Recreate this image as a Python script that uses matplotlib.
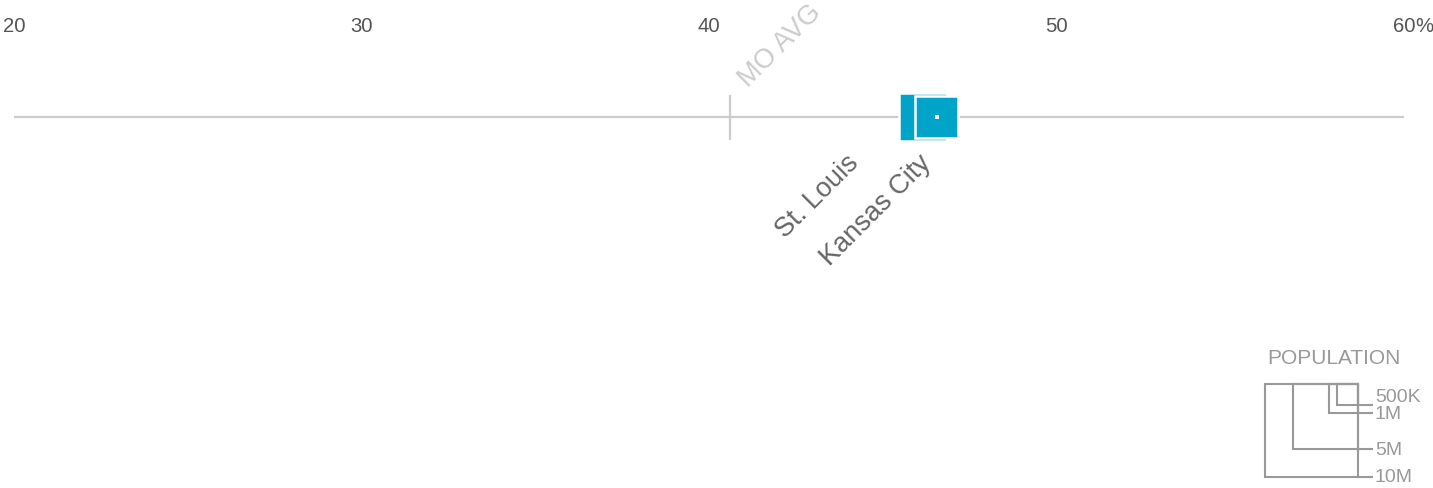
import numpy as np
import matplotlib.pyplot as plt
from matplotlib.patches import Rectangle

plt.rcParams['font.family'] = ['Liberation Sans', 'DejaVu Sans']

# metro share (%) and metro population
cities = ['St. Louis', 'Kansas City']
share = [46.15, 46.55]
population = [2650000, 2150000]
mo_avg = 40.6

tick_values = [20, 30, 40, 50, 60]
tick_labels = ['20', '30', '40', '50', '60']

legend_pops = [500000, 1000000, 5000000, 10000000]
legend_labels = ['500K', '1M', '5M', '10M']

W, H = 1433, 489
ppu = 34.75                 # pixels per percentage point
x0 = 20 - 14 / ppu          # value at the left edge of the figure
line_y = 118
max_side = 92.5             # square side for 10M people
blue = '#00a4c8'


def side(pop):
    return max_side * np.sqrt(pop / 1e7)


def px2val(px):
    return x0 + px / ppu


fig = plt.figure(figsize=(W / 100, H / 100), dpi=100)
ax = fig.add_axes([0, 0, 1, 1])
ax.set_xlim(x0, x0 + W / ppu)
ax.set_ylim(H, 0)
ax.axis('off')

# base line and state average
ax.plot([tick_values[0], tick_values[-1]], [line_y, line_y], color='#cccccc',
        lw=1.6, solid_capstyle='butt', zorder=1)
ax.plot([mo_avg, mo_avg], [line_y - 22, line_y + 23], color='#cccccc', lw=1.6,
        solid_capstyle='butt', zorder=1)
ax.text(mo_avg + 18 / ppu, 88, 'MO AVG', rotation=45, rotation_mode='anchor',
        ha='left', va='baseline', fontsize=19.5, color='#cccccc')

# tick labels along the top
for v, lab in zip(tick_values, tick_labels):
    ax.text(v, 32, lab, ha='center', va='baseline', fontsize=14.6, color='#555555')
ax.annotate('%', xy=(tick_values[-1], 32), xytext=(8, 0), textcoords='offset points',
            ha='left', va='baseline', fontsize=14.6, color='#555555')

# squares, biggest first so smaller ones sit on top
order = np.argsort(population)[::-1]
z = 3
for i in order:
    s = side(population[i])
    ax.add_patch(Rectangle((share[i] - s / 2 / ppu, line_y - s / 2), s / ppu, s,
                           facecolor=blue, edgecolor='white', lw=1.8, zorder=z))
    ax.plot(share[i], line_y, marker='s', ms=2.2, mew=0, color='white', zorder=z + 1)
    z += 2

# city labels, pushed left when they would collide
prev = np.inf
for i in np.argsort(share)[::-1]:
    lx = min((share[i] - x0) * ppu - 4, prev - 73)
    prev = lx
    ax.text(px2val(lx), 164, cities[i], rotation=45, rotation_mode='anchor',
            ha='right', va='baseline', fontsize=19.5, color='#666666')

# population legend
lax = fig.add_axes([0, 0, 1, 1])
lax.set_xlim(0, W)
lax.set_ylim(H, 0)
lax.axis('off')
lx_right, ly_top = 1358, 385
lax.text(1267, 364, 'POPULATION', ha='left', va='baseline', fontsize=15, color='#999999')
prev = np.inf
for p, lab in sorted(zip(legend_pops, legend_labels), reverse=True):
    s = side(p)
    lax.add_patch(Rectangle((lx_right - s, ly_top), s, s, fill=False,
                            edgecolor='#999999', lw=1.5))
    lax.plot([lx_right, lx_right + 14], [ly_top + s, ly_top + s], color='#999999', lw=1.5)
    ty = min(ly_top + s, prev - 17)
    prev = ty
    lax.text(lx_right + 17, ty, lab, ha='left', va='center', fontsize=14, color='#999999')

fig.savefig('out.png', dpi=100)
